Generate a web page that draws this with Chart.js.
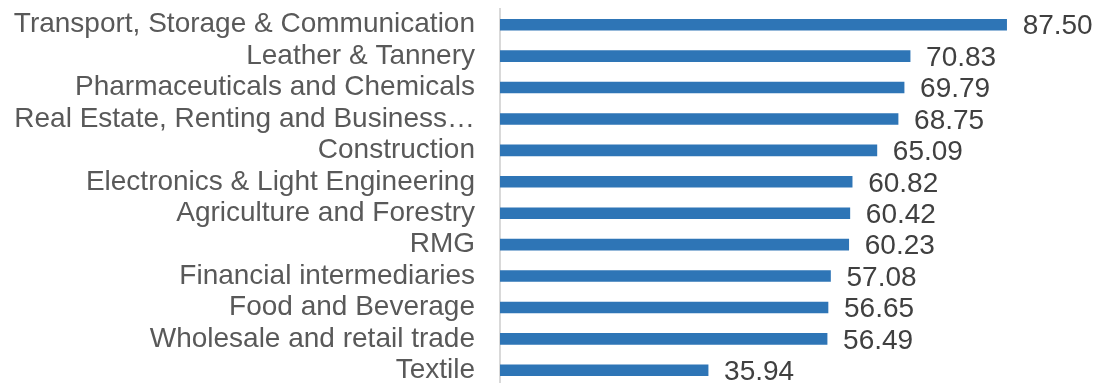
<!DOCTYPE html>
<html>
<head>
<meta charset="utf-8">
<script src="https://cdn.jsdelivr.net/npm/chart.js@4"></script>
<style>
  html, body { margin: 0; padding: 0; background: #fff; overflow: hidden; }
  #wrap { width: 1097px; height: 383px; overflow: hidden; }
  #wrap canvas { display: block; }
</style>
</head>
<body>
<div id="wrap"><canvas id="sectorChart" width="1097" height="395"></canvas></div>
<script>
// sectors, top to bottom
const sectors = [
  'Transport, Storage & Communication',
  'Leather & Tannery',
  'Pharmaceuticals and Chemicals',
  'Real Estate, Renting and Business\u2026',
  'Construction',
  'Electronics & Light Engineering',
  'Agriculture and Forestry',
  'RMG',
  'Financial intermediaries',
  'Food and Beverage',
  'Wholesale and retail trade',
  'Textile'
];
const scores = [87.50, 70.83, 69.79, 68.75, 65.09, 60.82, 60.42, 60.23, 57.08, 56.65, 56.49, 35.94];

const FONT = '"Liberation Sans", Arial, sans-serif';

// value labels at the end of each bar
const valueLabels = {
  id: 'valueLabels',
  afterDatasetsDraw(chart) {
    const ctx = chart.ctx;
    const meta = chart.getDatasetMeta(0);
    ctx.save();
    ctx.font = '28px ' + FONT;
    ctx.fillStyle = '#404040';
    ctx.textAlign = 'left';
    ctx.textBaseline = 'middle';
    meta.data.forEach((bar, i) => {
      ctx.fillText(scores[i].toFixed(2), bar.x + 16, bar.y + 2);
    });
    ctx.restore();
  }
};

const ctx = document.getElementById('sectorChart').getContext('2d');
new Chart(ctx, {
  type: 'bar',
  data: {
    labels: sectors,
    datasets: [{
      data: scores,
      backgroundColor: '#2E75B6',
      barThickness: 11,
      borderWidth: 0
    }]
  },
  options: {
    indexAxis: 'y',
    responsive: false,
    animation: false,
    layout: { padding: { top: 9, bottom: 9, left: 0, right: 18 } },
    plugins: { legend: { display: false }, tooltip: { enabled: false } },
    scales: {
      x: {
        min: 0,
        max: 100,
        display: false
      },
      y: {
        afterFit(scale) {
          scale.width = 500;
          // keep the label padding from shrinking the plot vertically
          scale.paddingTop = 0;
          scale.paddingBottom = 0;
        },
        grid: { display: false, drawTicks: false },
        border: { display: true, color: '#D9D9D9', width: 2 },
        ticks: {
          color: '#595959',
          padding: 25,
          autoSkip: false,
          font: { family: FONT, size: 28 }
        }
      }
    }
  },
  plugins: [valueLabels]
});
</script>
</body>
</html>
